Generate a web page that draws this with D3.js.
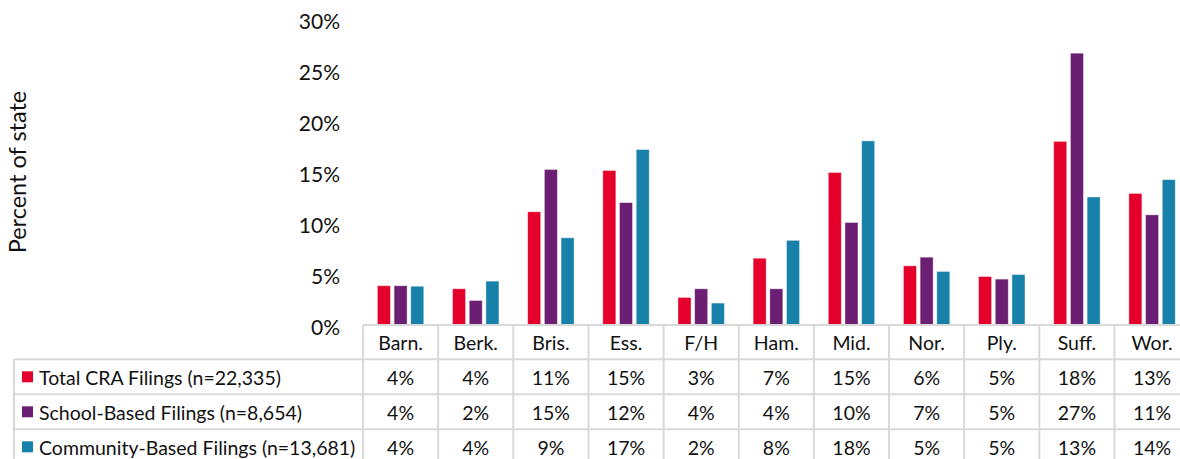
<!DOCTYPE html>
<html>
<head>
<meta charset="utf-8">
<script src="https://cdn.jsdelivr.net/npm/d3@7/dist/d3.min.js"></script>
<style>
  html, body { margin: 0; padding: 0; background: #fff; }
  svg { display: block; }
  text { font-family: Lato, "Open Sans", sans-serif; fill: #111; }
</style>
</head>
<body>
<svg id="chart" width="1180" height="459"></svg>
<script>
// Share of filings by county (percent of state total)
const categories = ["Barn.", "Berk.", "Bris.", "Ess.", "F/H", "Ham.", "Mid.", "Nor.", "Ply.", "Suff.", "Wor."];
const seriesNames = [
  "Total CRA Filings (n=22,335)",
  "School-Based Filings (n=8,654)",
  "Community-Based Filings (n=13,681)"
];
const totalFilings     = [3.85, 3.55, 11.10, 15.15, 2.70, 6.55, 14.95, 5.80, 4.75, 18.00, 12.90];
const schoolFilings    = [3.85, 2.40, 15.25, 12.00, 3.55, 3.55, 10.05, 6.65, 4.50, 26.65, 10.80];
const communityFilings = [3.80, 4.30,  8.55, 17.20, 2.15, 8.30, 18.05, 5.25, 4.95, 12.55, 14.25];
const yTicks = [0, 5, 10, 15, 20, 25, 30];
const colors = ["#E4002B", "#6B1F73", "#1781AA"];

const seriesValues = [totalFilings, schoolFilings, communityFilings];

const svg = d3.select("#chart");

// Layout
const colLeft = 363, colWidth = 75.15;
const baseY = 325, topY = 19;
const tableLeft = 14;
const headerH = 34.3, rowH = 35;
const grid = "#d9d9d9";
const tableFont = "19.5px";

const x = d3.scaleBand()
  .domain(categories)
  .range([colLeft, colLeft + colWidth * categories.length])
  .paddingInner(0).paddingOuter(0);

const xInner = d3.scaleBand()
  .domain(d3.range(seriesNames.length))
  .range([-23.2, 23.2])
  .paddingInner(0.22).paddingOuter(0);

const y = d3.scaleLinear().domain([0, 30]).range([baseY, topY]);

// Y axis: labels only
const yAxis = d3.axisLeft(y)
  .tickValues(yTicks)
  .tickFormat(d => d + "%")
  .tickSize(0)
  .tickPadding(0);
const yAxisG = svg.append("g")
  .attr("transform", "translate(340,0)")
  .call(yAxis);
yAxisG.select(".domain").remove();
yAxisG.selectAll("text")
  .attr("dy", "0.35em")
  .attr("y", 2)
  .style("font-size", "21px")
  .style("font-family", "Lato, 'Open Sans', sans-serif")
  .attr("fill", "#111");

// Axis title
svg.append("text")
  .attr("transform", "translate(18,172) rotate(-90)")
  .attr("text-anchor", "middle")
  .attr("dy", "0.35em")
  .style("font-size", "23.5px")
  .text("Percent of state");

// Bars
const groups = svg.append("g").selectAll("g")
  .data(categories)
  .join("g")
  .attr("transform", d => `translate(${x(d) + x.bandwidth() / 2},0)`);

groups.selectAll("rect")
  .data((d, i) => seriesValues.map((s, k) => ({ k, v: s[i] })))
  .join("rect")
  .attr("x", d => xInner(d.k))
  .attr("width", xInner.bandwidth())
  .attr("y", d => y(d.v))
  .attr("height", d => baseY - y(d.v))
  .attr("fill", d => colors[d.k])
  .attr("stroke", "#fff")
  .attr("stroke-width", 0.8)
  .attr("stroke-opacity", 0.5);

// Data table
const table = svg.append("g");
const tableRight = colLeft + colWidth * categories.length;
const rowTop = k => baseY + headerH + k * rowH;

// horizontal rules
table.append("line")
  .attr("x1", colLeft).attr("x2", tableRight)
  .attr("y1", baseY).attr("y2", baseY)
  .attr("stroke", grid).attr("stroke-width", 2);
d3.range(seriesNames.length + 1).forEach(k => {
  table.append("line")
    .attr("x1", tableLeft).attr("x2", tableRight)
    .attr("y1", rowTop(k)).attr("y2", rowTop(k))
    .attr("stroke", grid).attr("stroke-width", 2);
});
// vertical rules
table.append("line")
  .attr("x1", tableLeft).attr("x2", tableLeft)
  .attr("y1", rowTop(0)).attr("y2", rowTop(seriesNames.length))
  .attr("stroke", grid).attr("stroke-width", 2);
categories.concat(["_end"]).forEach((c, i) => {
  const xx = colLeft + i * colWidth;
  table.append("line")
    .attr("x1", xx).attr("x2", xx)
    .attr("y1", baseY).attr("y2", rowTop(seriesNames.length))
    .attr("stroke", grid).attr("stroke-width", 2);
});

// header labels
table.selectAll("text.cat")
  .data(categories)
  .join("text")
  .attr("class", "cat")
  .attr("x", d => x(d) + x.bandwidth() / 2)
  .attr("y", baseY + headerH / 2 + 1)
  .attr("dy", "0.35em")
  .attr("text-anchor", "middle")
  .style("font-size", tableFont)
  .text(d => d);

// series rows
const fmt = v => Math.round(v) + "%";
seriesNames.forEach((name, k) => {
  const cy = rowTop(k) + rowH / 2 + 1;
  table.append("rect")
    .attr("x", 22).attr("y", cy - 6.5)
    .attr("width", 11).attr("height", 11)
    .attr("fill", colors[k]);
  table.append("text")
    .attr("x", 39).attr("y", cy)
    .attr("dy", "0.35em")
    .style("font-size", tableFont)
    .text(name);
  table.selectAll(null)
    .data(categories)
    .join("text")
    .attr("x", d => x(d) + x.bandwidth() / 2)
    .attr("y", cy)
    .attr("dy", "0.35em")
    .attr("text-anchor", "middle")
    .style("font-size", tableFont)
    .text((d, i) => fmt(seriesValues[k][i]));
});
</script>
</body>
</html>
